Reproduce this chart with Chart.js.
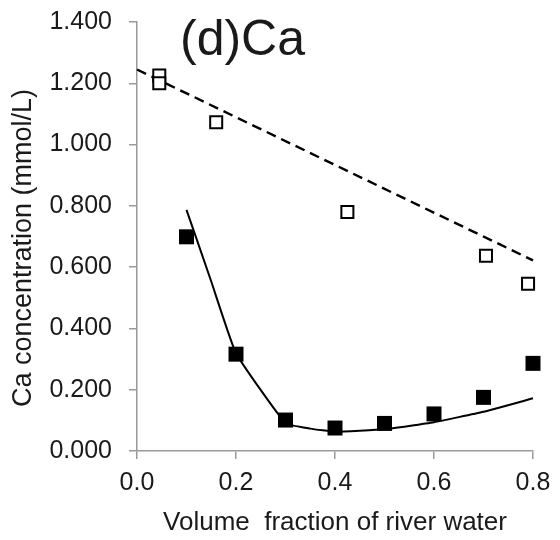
<!DOCTYPE html>
<html>
<head>
<meta charset="utf-8">
<title>Ca concentration</title>
<script src="https://cdn.jsdelivr.net/npm/chart.js@4/dist/chart.umd.min.js"></script>
<style>
  html, body { margin: 0; padding: 0; background: #fff; }
  canvas { display: block; }
</style>
</head>
<body>
<canvas id="chart" width="560" height="540"></canvas>
<script>
// measured samples (open squares: river/sea end-member mixes)
const openX = [0.045, 0.045, 0.16, 0.425, 0.705, 0.79];
const openY = [1.225, 1.200, 1.073, 0.780, 0.637, 0.546];

// conservative mixing line
const mixX = [0.0, 0.8];
const mixY = [1.245, 0.622];

// measured samples (filled squares)
const fillX = [0.1, 0.2, 0.3, 0.4, 0.5, 0.6, 0.7, 0.8];
const fillY = [0.699, 0.316, 0.101, 0.075, 0.090, 0.121, 0.175, 0.286];

// model curve
const modelX = [0.1, 0.15, 0.2, 0.3, 0.35, 0.4, 0.5, 0.6, 0.7, 0.8];
const modelY = [0.787, 0.553, 0.319, 0.091, 0.073, 0.063, 0.071, 0.094, 0.128, 0.172];

const yTicks = [0, 0.2, 0.4, 0.6, 0.8, 1.0, 1.2, 1.4];
const xTicks = [0, 0.2, 0.4, 0.6, 0.8];

const pts = (xs, ys) => xs.map((x, i) => ({ x: x, y: ys[i] }));

const FONT = "'Liberation Sans', Arial, sans-serif";
const TEXT = '#1a1a1a';
const AXIS = '#9a9a9a';

// panel label and the rotated y-axis title
const labels = {
  id: 'labels',
  afterDraw(chart) {
    const ctx = chart.ctx;
    ctx.save();
    ctx.fillStyle = TEXT;
    ctx.font = '50px ' + FONT;
    ctx.textBaseline = 'alphabetic';
    ctx.textAlign = 'left';
    ctx.fillText('(d)Ca', 180, 55);

    ctx.translate(24, 248);
    ctx.rotate(-Math.PI / 2);
    ctx.font = '27px ' + FONT;
    ctx.textAlign = 'center';
    ctx.textBaseline = 'middle';
    ctx.fillText('Ca concentration (mmol/L)', 0, 0);
    ctx.restore();
  }
};

new Chart(document.getElementById('chart'), {
  type: 'scatter',
  data: {
    datasets: [
      {
        data: pts(fillX, fillY),
        pointStyle: 'rect',
        pointRadius: 10.6,
        backgroundColor: '#000',
        borderWidth: 0,
        showLine: false,
        clip: false
      },
      {
        data: pts(openX, openY),
        pointStyle: 'rect',
        pointRadius: 8.5,
        backgroundColor: '#fff',
        borderColor: '#000',
        borderWidth: 2,
        showLine: false,
        clip: false
      },
      {
        data: pts(modelX, modelY),
        showLine: true,
        borderColor: '#000',
        borderWidth: 2,
        pointRadius: 0,
        tension: 0.12,
        clip: false
      },
      {
        data: pts(mixX, mixY),
        showLine: true,
        borderColor: '#000',
        borderWidth: 2.4,
        borderDash: [10, 6],
        pointRadius: 0,
        clip: false
      }
    ]
  },
  options: {
    responsive: false,
    animation: false,
    events: [],
    layout: { padding: { top: 22, right: 27, left: 0, bottom: 0 } },
    plugins: {
      legend: { display: false },
      tooltip: { enabled: false }
    },
    scales: {
      x: {
        type: 'linear',
        min: 0,
        max: 0.8,
        afterFit: (s) => { s.height = 89; s.paddingLeft = 0; s.paddingRight = 0; },
        afterBuildTicks: (s) => { s.ticks = xTicks.map(v => ({ value: v })); },
        ticks: {
          callback: (v) => Number(v).toFixed(1),
          font: { family: FONT, size: 25 },
          color: TEXT,
          padding: 9,
          maxRotation: 0
        },
        grid: { drawOnChartArea: false, drawTicks: true, tickLength: 8, color: AXIS, lineWidth: 1.5 },
        border: { color: AXIS, width: 1.5 },
        title: {
          display: true,
          text: 'Volume  fraction of river water',
          font: { family: FONT, size: 26 },
          color: TEXT,
          padding: { top: 0, bottom: 2 }
        }
      },
      y: {
        type: 'linear',
        min: 0,
        max: 1.4,
        afterFit: (s) => { s.width = 137; s.paddingTop = 0; s.paddingBottom = 0; },
        afterBuildTicks: (s) => { s.ticks = yTicks.map(v => ({ value: v })); },
        ticks: {
          callback: (v) => Number(v).toFixed(3),
          font: { family: FONT, size: 25 },
          color: TEXT,
          padding: 17
        },
        grid: { drawOnChartArea: false, drawTicks: true, tickLength: 8, color: AXIS, lineWidth: 1.5 },
        border: { color: AXIS, width: 1.5 }
      }
    }
  },
  plugins: [labels]
});
</script>
</body>
</html>
